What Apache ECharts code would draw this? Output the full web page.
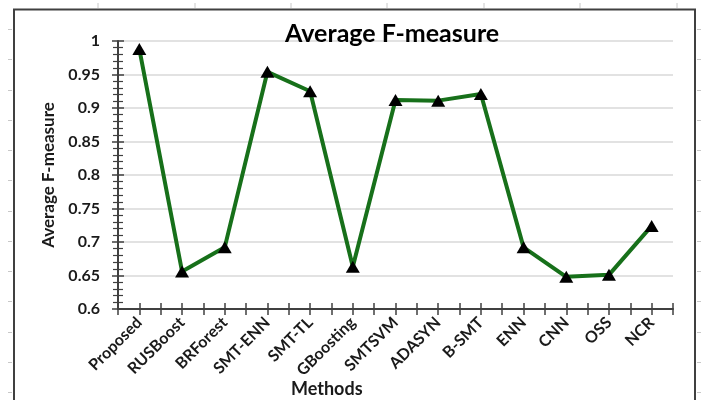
<!DOCTYPE html>
<html>
<head>
<meta charset="utf-8">
<script src="https://cdn.jsdelivr.net/npm/echarts@6/dist/echarts.min.js"></script>
<style>
  html, body { margin: 0; padding: 0; background: #fff; }
  #chart { width: 701px; height: 400px; }
</style>
</head>
<body>
<div id="chart"></div>
<script>
// Methods compared and their average F-measure scores
const methods = ['Proposed', 'RUSBoost', 'BRForest', 'SMT-ENN', 'SMT-TL', 'GBoosting',
  'SMTSVM', 'ADASYN', 'B-SMT', 'ENN', 'CNN', 'OSS', 'NCR'];
const fMeasure = [0.988, 0.656, 0.692, 0.954, 0.925, 0.663,
  0.912, 0.911, 0.921, 0.692, 0.648, 0.651, 0.724];
const yTicks = { min: 0.6, max: 1, step: 0.05 };

const FONT = 'Lato, "Open Sans", sans-serif';
const AXIS_COLOR = '#404040';
const TEXT_COLOR = '#1a1a1a';

const chart = echarts.init(document.getElementById('chart'), null, { renderer: 'canvas' });

// Decorative frame with small ruler ticks around it
const frame = [];
frame.push({
  type: 'rect', shape: { x: 14, y: 9.5, width: 681, height: 400 },
  style: { fill: 'none', stroke: AXIS_COLOR, lineWidth: 2 }, z: 0
});
[98, 195, 291, 387, 484, 580, 677].forEach(function (x) {
  frame.push({ type: 'line', shape: { x1: x, y1: 3, x2: x, y2: 8 },
    style: { stroke: '#c8c8c8', lineWidth: 1 } });
});
for (let k = 0; k < 13; k++) {
  const y = Math.round(29 + 30.25 * k) + 0.5;
  frame.push({ type: 'line', shape: { x1: 8, y1: y, x2: 12, y2: y },
    style: { stroke: '#c8c8c8', lineWidth: 1 } });
  frame.push({ type: 'line', shape: { x1: 697, y1: y, x2: 701, y2: y },
    style: { stroke: '#c8c8c8', lineWidth: 1 } });
}
frame.push({
  type: 'text', left: 291, top: 380,
  style: { text: 'Methods', font: 'bold 18px ' + FONT, fill: TEXT_COLOR }
});

const tickAxis = function (inside) {
  return {
    type: 'value', min: 0, max: methods.length * 2, interval: 1,
    position: 'bottom', show: true,
    axisLine: { show: false },
    axisLabel: { show: false },
    splitLine: { show: false },
    axisTick: { show: true, inside: inside, length: 6, lineStyle: { color: AXIS_COLOR, width: 1.5 } }
  };
};

const yAxisBase = function (inside, labels) {
  return {
    type: 'value', min: yTicks.min, max: yTicks.max, interval: yTicks.step,
    position: 'left',
    axisLine: { show: !inside, lineStyle: { color: AXIS_COLOR, width: 2 } },
    axisTick: { show: true, inside: inside, length: 6, lineStyle: { color: AXIS_COLOR, width: 1.5 } },
    minorTick: { show: true, splitNumber: 5, length: 5, lineStyle: { color: AXIS_COLOR, width: 1.2 } },
    axisLabel: {
      show: labels, margin: 18, color: TEXT_COLOR,
      fontFamily: FONT, fontWeight: 'bold', fontSize: 16,
      formatter: function (v) { return String(parseFloat(v.toFixed(2))); }
    },
    splitLine: { show: labels, lineStyle: { color: '#d9d9d9', width: 1.5 } },
    name: labels ? 'Average F-measure' : '',
    nameLocation: 'middle', nameGap: 53,
    nameTextStyle: { fontFamily: FONT, fontWeight: 'bold', fontSize: 17, color: TEXT_COLOR }
  };
};

chart.setOption({
  animation: false,
  backgroundColor: '#fff',
  title: {
    text: 'Average F-measure', left: 280, top: 16,
    textStyle: { fontFamily: FONT, fontWeight: 'bold', fontSize: 25, color: '#000' }
  },
  grid: { left: 118, right: 28, top: 41, bottom: 91, containLabel: false },
  xAxis: [
    {
      type: 'category', data: methods, boundaryGap: true,
      axisLine: { show: true, lineStyle: { color: AXIS_COLOR, width: 2 } },
      axisTick: { show: false },
      axisLabel: {
        interval: 0, rotate: 45, margin: 11, color: TEXT_COLOR,
        fontFamily: FONT, fontWeight: 'bold', fontSize: 16
      },
      splitLine: { show: false }
    },
    tickAxis(false),
    tickAxis(true)
  ],
  yAxis: [yAxisBase(false, true), yAxisBase(true, false)],
  graphic: frame,
  series: [{
    type: 'line', data: fMeasure, xAxisIndex: 0, yAxisIndex: 0,
    symbol: 'triangle', symbolSize: [14, 12], showAllSymbol: true,
    lineStyle: { color: '#17701a', width: 4 },
    itemStyle: { color: '#000' },
    z: 5
  }]
});
</script>
</body>
</html>
